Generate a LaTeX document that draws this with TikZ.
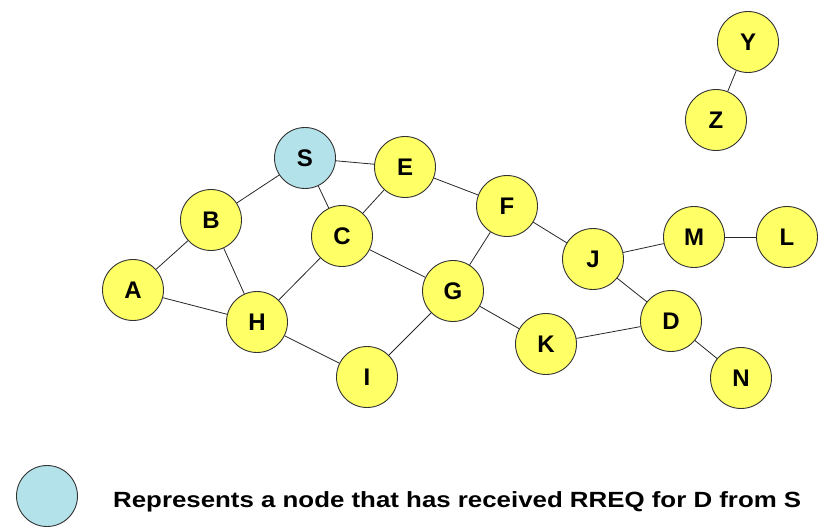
\documentclass[tikz,border=0pt]{standalone}
\usepackage{graphicx}
\usepackage{fontspec}
\setmainfont{Liberation Sans}
\definecolor{nodeyellow}{HTML}{FFFF66}
\definecolor{nodeblue}{HTML}{B4E2EA}
\begin{document}
\begin{tikzpicture}[x=1pt,y=-1pt,
  nd/.style={circle,draw=black!80,line width=0.9pt,fill=nodeyellow,minimum size=61pt,inner sep=0pt,font=\fontsize{24}{24}\selectfont\bfseries},
  rcv/.style={nd,fill=nodeblue},
  edge/.style={draw=black!85,line width=0.8pt}]
\useasboundingbox (0,0) rectangle (833,531);
\node[nd] (Y) at (748,42) {Y};
\node[nd] (Z) at (716,120) {Z};
\node[rcv] (S) at (305,158) {S};
\node[nd] (E) at (405,167) {E};
\node[nd] (F) at (507,206) {F};
\node[nd] (B) at (211,220) {B};
\node[nd] (C) at (342,236) {C};
\node[nd] (M) at (694,237) {M};
\node[nd] (L) at (787,237) {L};
\node[nd] (J) at (593,259) {J};
\node[nd] (A) at (133,290) {A};
\node[nd] (G) at (453,291) {G};
\node[nd] (H) at (257,322) {H};
\node[nd] (D) at (671,321) {D};
\node[nd] (K) at (546,344) {K};
\node[nd] (I) at (367,377) {I};
\node[nd] (N) at (741,378) {N};
\foreach \a/\b in {S/E,S/B,S/C,E/C,E/F,F/G,F/J,B/A,B/H,A/H,H/C,H/I,C/G,G/I,G/K,K/D,J/D,J/M,M/L,D/N,Y/Z}
  \draw[edge] (\a) -- (\b);
\node[rcv] (leg) at (47,496) {};
\node[anchor=base west,inner sep=0pt,font=\fontsize{22}{22}\selectfont\bfseries] (legtext) at (113,507) {\scalebox{1.175}[1]{Represents a node that has received RREQ for D from S}};
\end{tikzpicture}
\end{document}
